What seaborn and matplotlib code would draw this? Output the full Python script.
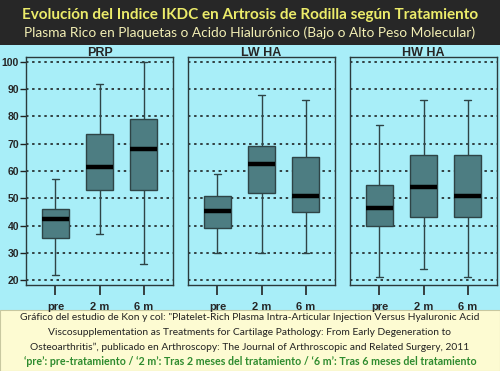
import numpy as np
import pandas as pd
import matplotlib
matplotlib.use("Agg")
import matplotlib.pyplot as plt
import seaborn as sns
from matplotlib.patches import Rectangle

panels = ["PRP", "LW HA", "HW HA"]
times = ["pre", "2 m", "6 m"]
# min, q1, median, q3, max per time point
prp_stats = [[22, 35.5, 42.5, 46, 57], [37, 53, 61.5, 73.5, 92], [26, 53, 68, 79, 100]]
lwha_stats = [[30, 39, 45.5, 51, 59], [30, 52, 62.5, 69, 88], [30, 45, 51, 65, 86]]
hwha_stats = [[21, 40, 46.5, 55, 77], [24, 43, 54, 66, 86], [21, 43, 51, 66, 86]]
y_ticks = [20, 30, 40, 50, 60, 70, 80, 90, 100]

title = "Evolución del Indice IKDC en Artrosis de Rodilla según Tratamiento"
subtitle = "Plasma Rico en Plaquetas o Acido Hialurónico (Bajo o Alto Peso Molecular)"
caption = ['Gráfico del estudio de Kon y col: "Platelet-Rich Plasma Intra-Articular Injection Versus Hyaluronic Acid',
           "Viscosupplementation as Treatments for Cartilage Pathology: From Early Degeneration to",
           "Osteoarthritis”, publicado en Arthroscopy: The Journal of Arthroscopic and Related Surgery, 2011"]
legend_line = "‘pre’: pre-tratamiento / ‘2 m’: Tras 2 meses del tratamiento / ‘6 m’: Tras 6 meses del tratamiento"

rows = []
for panel, stats in zip(panels, [prp_stats, lwha_stats, hwha_stats]):
    for t, vals in zip(times, stats):
        for v in vals:
            rows.append({"panel": panel, "time": t, "value": v})
df = pd.DataFrame(rows)

sns.set_style("white")
plt.rcParams['font.family'] = ['Liberation Sans', 'DejaVu Sans']

cyan = "#a8eef8"
W, H = 500, 371
fig = plt.figure(figsize=(W / 100, H / 100), dpi=100, facecolor=cyan)
fig.add_artist(Rectangle((0, 1 - 45 / H), 1, 45 / H, transform=fig.transFigure,
                         facecolor="#272727", edgecolor="none", zorder=0))
fig.add_artist(Rectangle((0, 0), 1, 61 / H, transform=fig.transFigure,
                         facecolor="#fdfbd2", edgecolor="#c8c8a0", linewidth=0.8, zorder=0))

fig.text(0.5, 1 - 15 / H, title, ha="center", va="center", color="#ecec6a",
         fontsize=11, fontweight="bold", family=["Lato", "DejaVu Sans"])
fig.text(0.5, 1 - 33 / H, subtitle, ha="center", va="center", color="#f2eeb4",
         fontsize=9.9, family=["Lato", "DejaVu Sans"])

lefts = [26, 188, 350]
for i, (panel, left) in enumerate(zip(panels, lefts)):
    ax = fig.add_axes([left / W, (H - 285) / H, 147 / W, 228 / H])
    ax.set_facecolor(cyan)
    sub = df[df.panel == panel]
    sns.boxplot(data=sub, x="time", y="value", order=times, ax=ax, whis=(0, 100),
                width=0.6, color="#4d7d82", saturation=1, linecolor="#2e4446",
                linewidth=1, showfliers=False, capwidths=0.16,
                medianprops=dict(color="black", linewidth=3.2))
    ax.set_ylim(18.2, 101.8)
    ax.set_xlim(-0.67, 2.67)
    ax.set_yticks(y_ticks)
    ax.yaxis.grid(True, linestyle=(0, (1.6, 2.4)), color="#111111", linewidth=1.1)
    ax.set_axisbelow(True)
    ax.set_xlabel("")
    ax.set_ylabel("")
    for s in ax.spines.values():
        s.set_color("#2a3a3c")
        s.set_linewidth(1)
    ax.tick_params(axis="x", length=7, width=1.2, color="#222222", pad=5,
                   labelsize=8, bottom=True)
    if i == 0:
        ax.tick_params(axis="y", length=4, width=1, color="#222222", pad=1,
                       labelsize=7.5, left=True)
    else:
        ax.tick_params(axis="y", left=False, labelleft=False)
    for lab in ax.get_xticklabels() + ax.get_yticklabels():
        lab.set_fontweight("bold")
    ax.set_title(panel, fontsize=9, fontweight="bold", pad=1)

for k, line in enumerate(caption):
    fig.text(0.5, 1 - (318 + 14.5 * k) / H, line, ha="center", va="center",
             color="#222222", fontsize=7.35, family=["Lato", "DejaVu Sans"])
fig.text(0.5, 1 - 361.5 / H, legend_line, ha="center", va="center",
         color="#2e8b2e", fontsize=7.7, fontweight="bold", family=["Lato", "DejaVu Sans"])

fig.savefig("out.png", dpi=100, facecolor=fig.get_facecolor())
